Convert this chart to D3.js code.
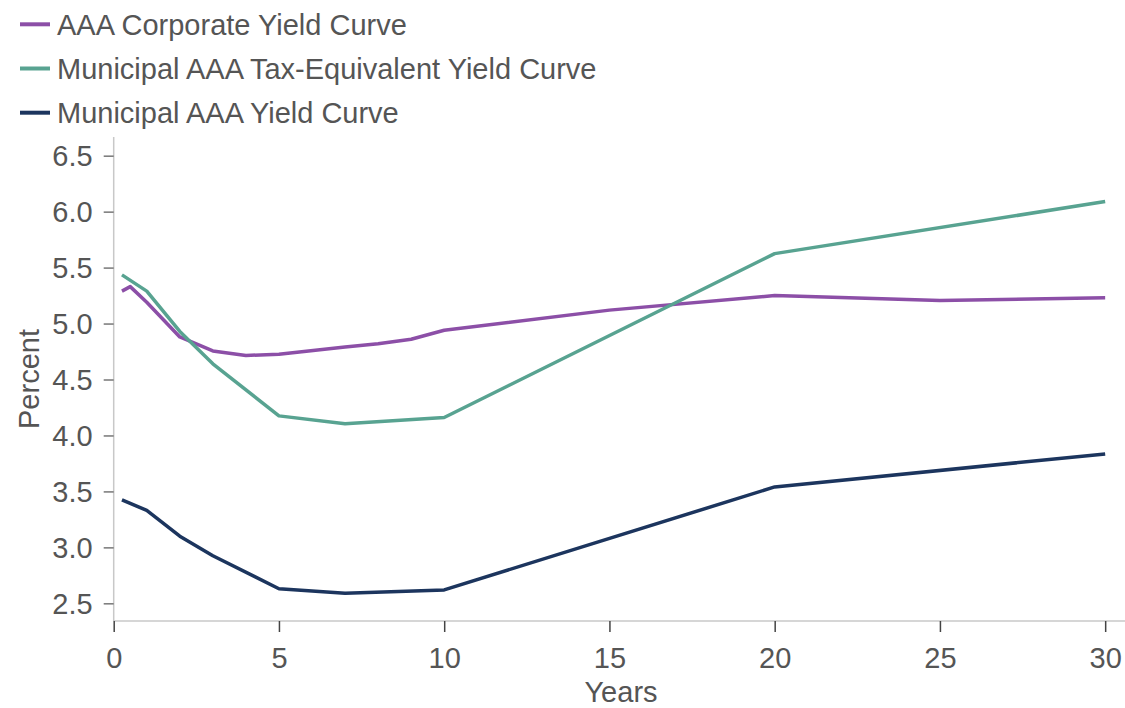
<!DOCTYPE html>
<html>
<head>
<meta charset="utf-8">
<script src="https://cdn.jsdelivr.net/npm/d3@7"></script>
<style>
  html, body { margin: 0; padding: 0; background: #fff; }
  svg text { font-family: "Liberation Sans", Arial, sans-serif; fill: #555; }
</style>
</head>
<body>
<svg id="chart" width="1125" height="708"></svg>
<script>
// ---- data ----
const seriesNames = ["AAA Corporate Yield Curve", "Municipal AAA Tax-Equivalent Yield Curve", "Municipal AAA Yield Curve"];
const seriesColors = ["#8c4fa7", "#58a391", "#1c355e"];

const corpYears = [0.25, 0.5, 1, 2, 3, 4, 5, 7, 8, 9, 10, 15, 20, 25, 30];
const corpYield = [5.29, 5.33, 5.19, 4.88, 4.755, 4.715, 4.725, 4.79, 4.82, 4.86, 4.94, 5.12, 5.25, 5.205, 5.23];

const muniYears = [0.25, 1, 2, 3, 5, 7, 10, 20, 30];
const muniTaxEqYield = [5.435, 5.29, 4.93, 4.64, 4.175, 4.105, 4.16, 5.625, 6.09];
const muniYield = [3.425, 3.33, 3.10, 2.925, 2.63, 2.59, 2.62, 3.54, 3.835];

const xTicks = [0, 5, 10, 15, 20, 25, 30];
const yTicks = [2.5, 3.0, 3.5, 4.0, 4.5, 5.0, 5.5, 6.0, 6.5];

// ---- layout ----
(function () {
const FS = 29;
const svg = d3.select("#chart");
const mLeft = 113.7, mRight = 1125, mTop = 137, mBottom = 621;

const x = d3.scaleLinear().domain([0, 30.6]).range([mLeft, mRight]);
const y = d3.scaleLinear().domain([2.342, 6.667]).range([mBottom, mTop]);

// axes spines
svg.append("line").attr("x1", mLeft).attr("x2", mLeft).attr("y1", mTop).attr("y2", mBottom)
  .attr("stroke", "#c8c8c8").attr("stroke-width", 1.5);
svg.append("line").attr("x1", mLeft).attr("x2", mRight).attr("y1", mBottom).attr("y2", mBottom)
  .attr("stroke", "#c8c8c8").attr("stroke-width", 1.5);

// y axis
const yAxis = svg.append("g").attr("transform", `translate(${mLeft},0)`)
  .call(d3.axisLeft(y).tickValues(yTicks).tickFormat(d3.format(".1f")).tickSize(10).tickPadding(11));
yAxis.select(".domain").remove();
yAxis.selectAll(".tick line").attr("stroke", "#777").attr("stroke-width", 1.5);
yAxis.selectAll(".tick text").attr("font-size", FS).attr("fill", "#555")
  .style("font-family", "'Liberation Sans', Arial, sans-serif").attr("dy", "0.34em");

// x axis
const xAxis = svg.append("g").attr("transform", `translate(0,${mBottom})`)
  .call(d3.axisBottom(x).tickValues(xTicks).tickFormat(d3.format("d")).tickSize(11).tickPadding(16));
xAxis.select(".domain").remove();
xAxis.selectAll(".tick line").attr("stroke", "#444").attr("stroke-width", 1.5);
xAxis.selectAll(".tick text").attr("font-size", FS).attr("fill", "#555")
  .style("font-family", "'Liberation Sans', Arial, sans-serif").attr("dy", "0.7em");

// axis titles
svg.append("text").attr("x", 621).attr("y", 702).attr("text-anchor", "middle")
  .attr("font-size", FS).text("Years");
svg.append("text").attr("transform", "translate(39,379) rotate(-90)").attr("text-anchor", "middle")
  .attr("font-size", FS).text("Percent");

// lines
const line = d3.line().x(d => x(d[0])).y(d => y(d[1]));
const seriesData = [
  d3.zip(corpYears, corpYield),
  d3.zip(muniYears, muniTaxEqYield),
  d3.zip(muniYears, muniYield)
];
seriesData.forEach((pts, i) => {
  svg.append("path").datum(pts).attr("d", line)
    .attr("fill", "none").attr("stroke", seriesColors[i])
    .attr("stroke-width", 3.5).attr("stroke-linejoin", "round");
});

// legend
const legend = svg.append("g");
seriesNames.forEach((name, i) => {
  const ly = 24.3 + i * 44.2;
  legend.append("line").attr("x1", 20).attr("x2", 50).attr("y1", ly).attr("y2", ly)
    .attr("stroke", seriesColors[i]).attr("stroke-width", 4);
  legend.append("text").attr("x", 57).attr("y", ly + 10.5).attr("font-size", FS).text(name);
});
})();
</script>
</body>
</html>
